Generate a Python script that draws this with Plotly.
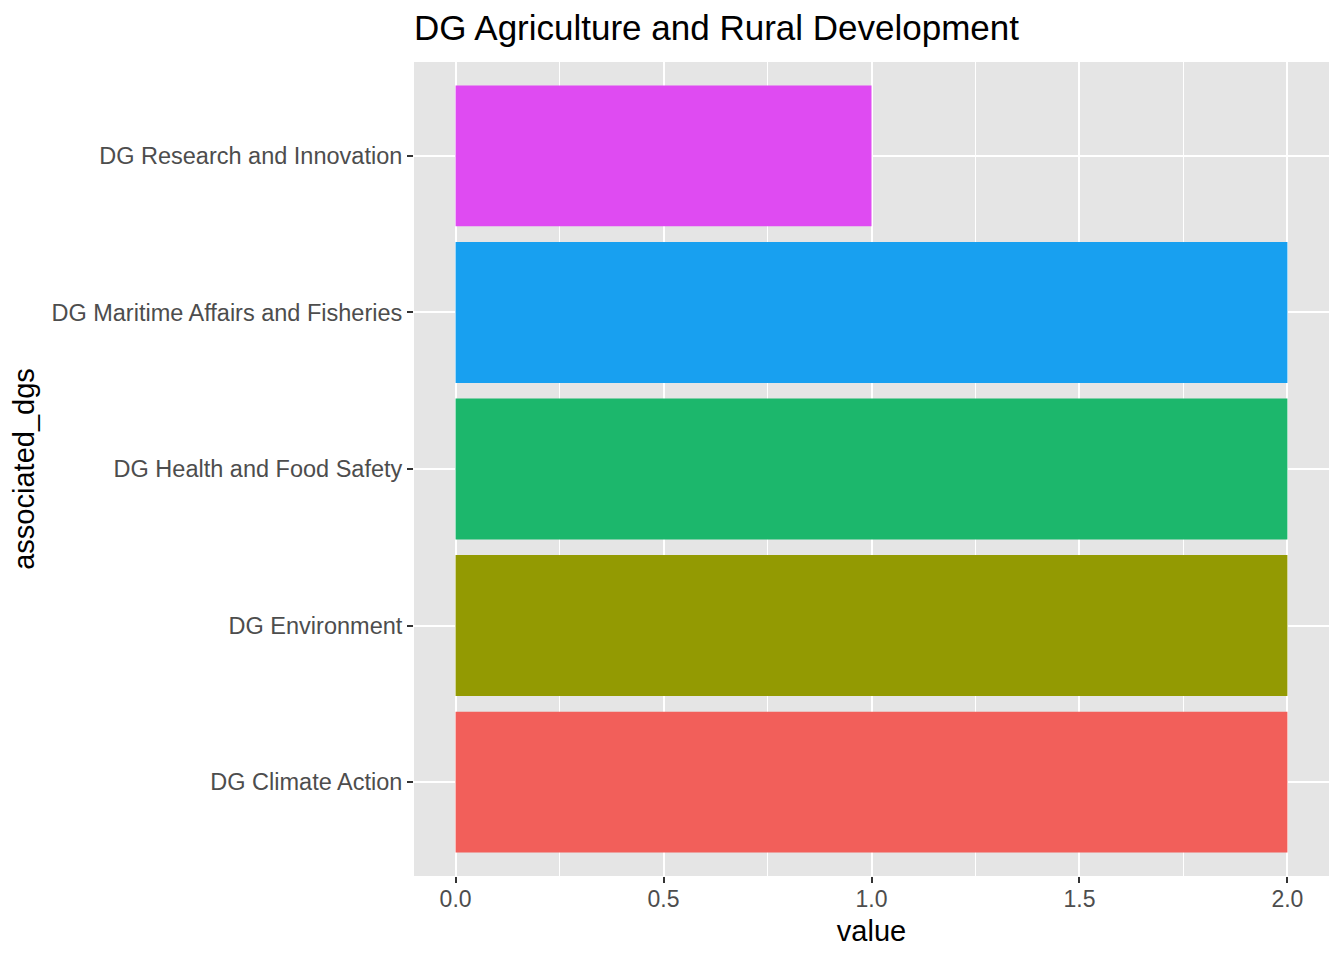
import plotly.graph_objects as go

# data
dgs = ["DG Climate Action", "DG Environment", "DG Health and Food Safety",
       "DG Maritime Affairs and Fisheries", "DG Research and Innovation"]
values = [2, 2, 2, 2, 1]
bar_colors = ["#F25F5A", "#939A02", "#1CB76C", "#18A0F0", "#DF4BF2"]

x_ticks = [0.0, 0.5, 1.0, 1.5, 2.0]
x_tick_labels = ["0.0", "0.5", "1.0", "1.5", "2.0"]

# page has an 8px body margin, so the figure is a bit smaller than the window
W, H = 1328, 944

fig = go.Figure()
fig.add_trace(go.Bar(
    x=values, y=dgs,
    orientation="h",
    width=0.9,
    marker=dict(color=bar_colors, line=dict(width=0)),
    showlegend=False,
))

fig.update_layout(
    width=W, height=H,
    margin=dict(l=406, r=7, t=54, b=76),
    paper_bgcolor="white",
    plot_bgcolor="#E5E5E5",
    font=dict(family="Liberation Sans, Arial, sans-serif", color="#4D4D4D"),
    title=dict(
        text="DG Agriculture and Rural Development",
        x=406 / W, xanchor="left",
        y=1 - 20 / H, yanchor="middle",
        font=dict(size=35, color="black"),
    ),
    bargap=0.1,
)

fig.update_xaxes(
    range=[-0.1, 2.1],
    tickvals=x_ticks, ticktext=x_tick_labels,
    ticks="outside", ticklen=6, tickwidth=2, tickcolor="#333333",
    tickfont=dict(size=23, color="#4D4D4D"),
    ticklabelstandoff=-4,
    showgrid=True, gridcolor="white", gridwidth=2,
    minor=dict(dtick=0.25, showgrid=True, gridcolor="white", gridwidth=1),
    zeroline=False, showline=False,
    title=dict(text="value", font=dict(size=29, color="black"), standoff=10),
)

fig.update_yaxes(
    categoryorder="array", categoryarray=dgs,
    range=[-0.6, 4.6],
    ticks="outside", ticklen=6, tickwidth=2, tickcolor="#333333",
    tickfont=dict(size=23.5, color="#4D4D4D"),
    showgrid=True, gridcolor="white", gridwidth=2,
    zeroline=False, showline=False,
    title=dict(text="associated_dgs", font=dict(size=29, color="black"), standoff=12),
)

fig.write_html("out.html")
